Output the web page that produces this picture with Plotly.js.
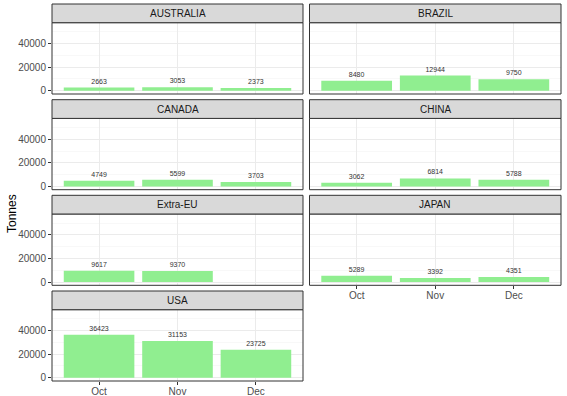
<!DOCTYPE html>
<html>
<head>
<meta charset="utf-8">
<script src="https://cdn.plot.ly/plotly-3.0.1.min.js"></script>
<style>html,body{margin:0;padding:0;background:#fff;}#chart{width:567px;height:396px;}</style>
</head>
<body>
<div id="chart"></div>
<script>
const months = ["Oct", "Nov", "Dec"];
const facets = ["AUSTRALIA", "BRAZIL", "CANADA", "CHINA", "Extra-EU", "JAPAN", "USA"];
const australia = [2663, 3053, 2373];
const brazil = [8480, 12944, 9750];
const canada = [4749, 5599, 3703];
const china = [3062, 6814, 5788];
const extraEU = [9617, 9370, null];
const japan = [5289, 3392, 4351];
const usa = [36423, 31153, 23725];
const yTicks = [0, 20000, 40000];
const series = [australia, brazil, canada, china, extraEU, japan, usa];

const W = 567, H = 396;
const colX = [[52, 303], [309.5, 561]];
const stripTops = [4, 99.7, 195.3, 291];
const stripH = 18.7, panelBottomOff = 90;
const px = v => v / W;
const py = v => 1 - v / H;

const traces = [];
const shapes = [];
const annotations = [];
const layout = {
  width: W, height: H,
  margin: {l: 0, r: 0, t: 0, b: 0},
  paper_bgcolor: '#ffffff', plot_bgcolor: '#ffffff',
  showlegend: false,
  font: {family: 'Liberation Sans, Arial, sans-serif', color: '#4d4d4d', size: 10},
  bargap: 0.1
};

facets.forEach((name, i) => {
  const col = i % 2, row = Math.floor(i / 2);
  const idx = i === 0 ? '' : String(i + 1);
  const xa = 'x' + idx, ya = 'y' + idx;
  const vals = series[i];
  traces.push({
    type: 'bar', x: months, y: vals, xaxis: xa, yaxis: ya,
    width: 0.9,
    marker: {color: '#90EE90', line: {width: 0}},
    text: vals.map(v => v === null ? '' : String(v)),
    textposition: 'outside', cliponaxis: false,
    textfont: {size: 7, color: '#333333', family: 'Liberation Sans, Arial, sans-serif'},
    hoverinfo: 'skip'
  });
  const x0 = colX[col][0], x1 = colX[col][1];
  const sTop = stripTops[row], pTop = sTop + stripH, pBot = sTop + panelBottomOff;
  const showX = (name === 'USA' || name === 'JAPAN');
  const showY = col === 0;
  layout['xaxis' + idx] = {
    domain: [px(x0), px(x1)], anchor: ya,
    type: 'category', categoryorder: 'array', categoryarray: months,
    range: [-0.6, 2.6], fixedrange: true,
    showgrid: true, gridcolor: '#ebebeb', gridwidth: 1,
    zeroline: false, showline: false,
    showticklabels: showX, ticks: showX ? 'outside' : '', ticklen: 3, tickcolor: '#333333',
    ticklabelstandoff: -2,
    tickfont: {size: 10, color: '#4d4d4d'}
  };
  layout['yaxis' + idx] = {
    domain: [py(pBot), py(pTop)], anchor: xa,
    range: [-2750, 57750], fixedrange: true,
    tickmode: 'array', tickvals: yTicks, ticktext: yTicks.map(String),
    showgrid: true, gridcolor: '#ebebeb', gridwidth: 1,
    minor: {tickmode: 'array', tickvals: [10000, 30000, 50000], showgrid: true, gridcolor: '#f4f4f4', gridwidth: 0.6, ticks: ''},
    zeroline: false, showline: false,
    showticklabels: showY, ticks: showY ? 'outside' : '', ticklen: 3, tickcolor: '#333333',
    tickfont: {size: 10, color: '#4d4d4d'}
  };
  shapes.push({type: 'rect', xref: 'paper', yref: 'paper', x0: px(x0), x1: px(x1), y0: py(pBot), y1: py(pTop),
    line: {color: '#333333', width: 1}, fillcolor: 'rgba(0,0,0,0)', layer: 'above'});
  shapes.push({type: 'rect', xref: 'paper', yref: 'paper', x0: px(x0), x1: px(x1), y0: py(pTop), y1: py(sTop),
    line: {color: '#333333', width: 1}, fillcolor: '#d9d9d9', layer: 'above'});
  annotations.push({text: name, xref: 'paper', yref: 'paper', x: px((x0 + x1) / 2), y: py(sTop + stripH / 2),
    xanchor: 'center', yanchor: 'middle', showarrow: false, font: {size: 10, color: '#1a1a1a'}});
});

annotations.push({text: 'Tonnes', xref: 'paper', yref: 'paper', x: px(12), y: py(214), textangle: -90,
  xanchor: 'center', yanchor: 'middle', showarrow: false, font: {size: 12, color: '#000000'}});

layout.shapes = shapes;
layout.annotations = annotations;
Plotly.newPlot('chart', traces, layout, {displayModeBar: false, staticPlot: true});
</script>
</body>
</html>
